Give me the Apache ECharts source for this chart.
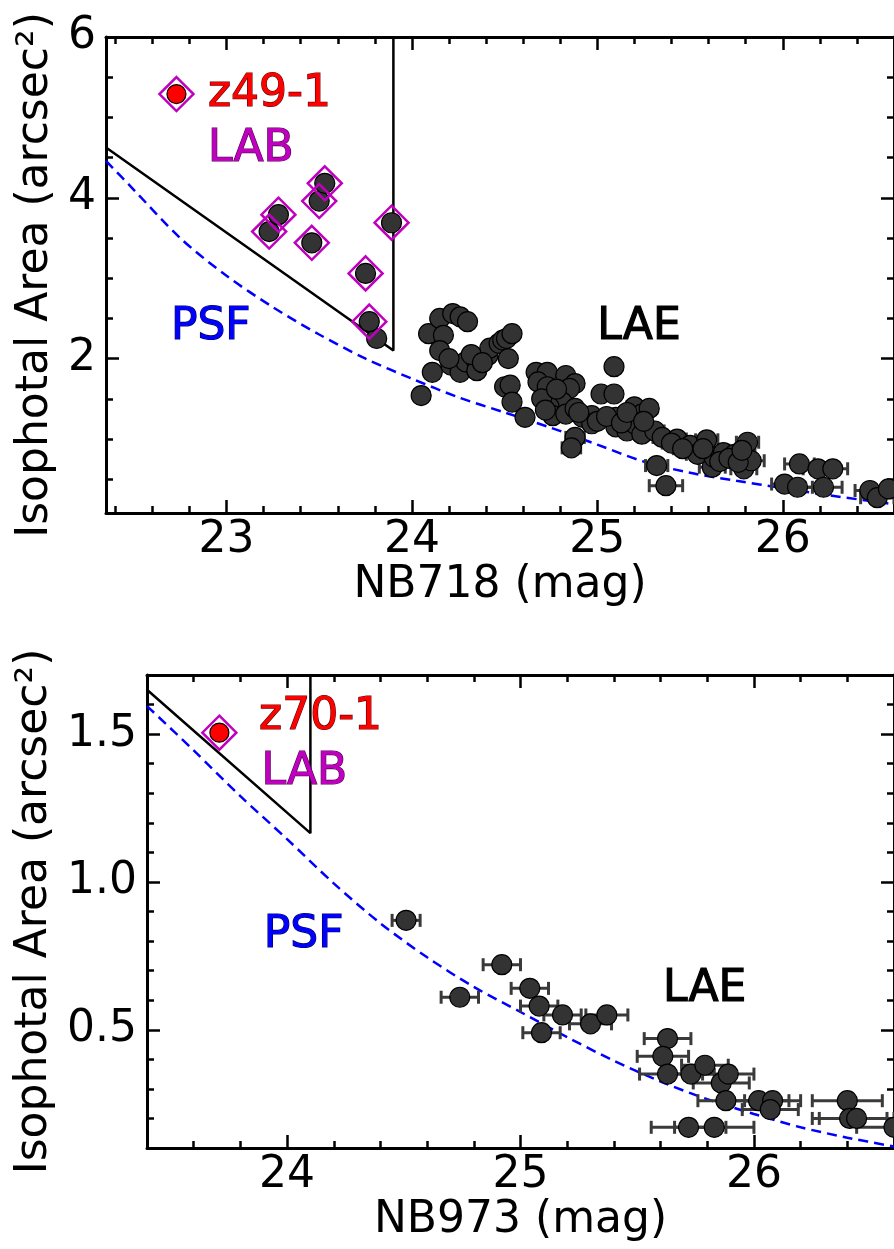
<!DOCTYPE html>
<html>
<head>
<meta charset="utf-8">
<script src="https://cdn.jsdelivr.net/npm/echarts@6/dist/echarts.min.js"></script>
<style>
  html, body { margin: 0; padding: 0; background: #fff; }
  #main { width: 894px; height: 1249px; }
</style>
</head>
<body>
<div id="main"></div>
<script>
// ---- NB718 panel (z=4.9) ----
const laeMag718 = [24.05, 24.11, 24.09, 24.15, 24.22, 24.26, 24.30, 24.17, 24.15, 24.21, 24.26, 24.29, 24.34, 24.35, 24.41, 24.42, 24.47, 24.49, 24.51, 24.54,
  24.52, 24.50, 24.53, 24.54, 24.61, 24.67, 24.73, 24.68, 24.83, 24.88, 24.85, 24.73, 24.76, 24.81, 24.74, 24.76, 24.83, 24.88, 24.92, 24.97,
  24.97, 24.88, 24.86, 25.02, 25.09, 25.09, 25.10, 25.10, 25.16, 25.20, 25.24, 25.28, 25.20, 25.24, 25.31, 25.35, 25.32, 25.37, 25.43, 25.50,
  25.59, 25.54, 25.62, 25.63, 25.68, 25.74, 25.79, 25.81, 25.83, 26.01, 26.08, 26.09, 26.19, 26.22, 26.27, 26.47, 26.51, 26.57,
  24.70, 24.78, 24.72, 24.90, 25.00, 25.05, 25.13, 25.16, 25.25, 25.40, 25.46, 25.57, 25.66, 25.71, 25.76, 25.78, 24.32, 24.20, 24.38, 23.81];
const laeArea718 = [1.54, 1.83, 2.31, 2.50, 2.56, 2.52, 2.46, 2.29, 2.10, 1.92, 1.83, 1.96, 2.00, 1.85, 2.04, 2.13, 2.19, 2.23, 2.25, 2.31,
  2.00, 1.65, 1.67, 1.46, 1.27, 1.83, 1.83, 1.71, 1.79, 1.69, 1.63, 1.65, 1.52, 1.46, 1.40, 1.29, 1.31, 1.38, 1.27, 1.29,
  1.19, 1.02, 0.89, 1.56, 1.56, 1.90, 1.27, 1.15, 1.10, 1.40, 1.31, 1.38, 1.19, 1.06, 1.10, 1.02, 0.67, 0.42, 1.00, 0.92,
  0.99, 0.81, 0.65, 0.77, 0.83, 0.81, 0.63, 0.96, 0.73, 0.44, 0.40, 0.69, 0.63, 0.40, 0.63, 0.36, 0.27, 0.38,
  1.50, 1.62, 1.36, 1.33, 1.22, 1.28, 1.20, 1.33, 1.22, 0.95, 0.88, 0.88, 0.72, 0.76, 0.71, 0.86, 2.05, 2.00, 1.95, 2.25];
const laeErr718 = [0.03, 0.03, 0.03, 0.03, 0.03, 0.03, 0.03, 0.03, 0.03, 0.03, 0.03, 0.03, 0.03, 0.03, 0.03, 0.03, 0.03, 0.03, 0.03, 0.03,
  0.03, 0.03, 0.03, 0.03, 0.03, 0.03, 0.03, 0.03, 0.03, 0.03, 0.03, 0.03, 0.03, 0.03, 0.03, 0.03, 0.03, 0.03, 0.03, 0.03,
  0.03, 0.05, 0.05, 0.03, 0.03, 0.03, 0.03, 0.03, 0.03, 0.04, 0.04, 0.04, 0.04, 0.04, 0.05, 0.05, 0.06, 0.09, 0.05, 0.05,
  0.06, 0.06, 0.07, 0.07, 0.07, 0.07, 0.07, 0.06, 0.07, 0.07, 0.08, 0.08, 0.08, 0.10, 0.08, 0.08, 0.09, 0.09,
  0.03, 0.03, 0.03, 0.03, 0.03, 0.03, 0.03, 0.04, 0.04, 0.05, 0.05, 0.06, 0.07, 0.07, 0.07, 0.07, 0.03, 0.03, 0.03, 0.03];
const labMag718 = [23.23, 23.28, 23.46, 23.50, 23.53, 23.89, 23.75, 23.77];
const labArea718 = [3.58, 3.79, 3.44, 3.96, 4.18, 3.69, 3.06, 2.46];
const star718 = [22.73, 5.29];            // z49-1
const psfMag718 = [22.35, 22.50, 22.75, 23.00, 23.25, 23.50, 23.75, 24.00, 24.25, 24.50, 24.75, 25.00, 25.25, 25.50, 25.75, 26.00, 26.25, 26.60];
const psfArea718 = [4.46, 4.10, 3.50, 3.03, 2.64, 2.30, 2.00, 1.75, 1.52, 1.33, 1.14, 0.93, 0.72, 0.58, 0.48, 0.39, 0.30, 0.19];
const cut718 = [[22.35, 4.625], [23.9, 2.1], [23.9, 6]];

// ---- NB973 panel (z=7.0) ----
const laeMag973 = [24.51, 24.92, 24.74, 25.04, 25.08, 25.18, 25.09, 25.30, 25.37, 25.63, 25.61, 25.63, 25.73, 25.79, 25.86, 25.89, 25.88, 26.02, 26.08, 26.07, 26.40, 26.41, 26.44, 26.60, 25.72, 25.83];
const laeArea973 = [0.87, 0.72, 0.61, 0.64, 0.58, 0.55, 0.49, 0.52, 0.55, 0.47, 0.41, 0.35, 0.35, 0.38, 0.32, 0.35, 0.26, 0.26, 0.26, 0.23, 0.26, 0.20, 0.20, 0.17, 0.17, 0.17];
const laeErr973 = [0.06, 0.08, 0.08, 0.08, 0.08, 0.08, 0.08, 0.09, 0.09, 0.10, 0.11, 0.12, 0.10, 0.10, 0.12, 0.11, 0.12, 0.13, 0.12, 0.12, 0.15, 0.16, 0.16, 0.16, 0.16, 0.17];
const star973 = [23.71, 1.505];           // z70-1
const psfMag973 = [23.40, 23.60, 23.80, 24.00, 24.20, 24.40, 24.60, 24.80, 25.00, 25.20, 25.40, 25.60, 25.80, 26.00, 26.20, 26.40, 26.60];
const psfArea973 = [1.595, 1.445, 1.29, 1.145, 0.995, 0.86, 0.745, 0.645, 0.56, 0.475, 0.395, 0.325, 0.265, 0.215, 0.17, 0.135, 0.105];
const cut973 = [[23.4, 1.65], [24.1, 1.165], [24.1, 1.7]];

const FONT = 'DejaVu Sans';
const MAG = '#bf00bf';

function zip(xs, ys, es) {
  return xs.map((x, i) => es ? [x, ys[i], es[i]] : [x, ys[i]]);
}

function ticks(from, to, step) {
  const out = [];
  for (let v = from; v <= to + 1e-9; v += step) out.push(+v.toFixed(3));
  return out;
}

// four axes per direction: labelled major, minor, mirrored major, mirrored minor
function axisSet(kind, grid, min, max, major, minor, name, nameGap, fmt) {
  const sides = kind === 'x' ? ['bottom', 'top'] : ['left', 'right'];
  const base = { type: 'value', gridIndex: grid, min: min, max: max, splitLine: { show: false } };
  const line = { show: true, onZero: false, lineStyle: { color: '#000', width: 3 } };
  const tick = (vals, len) => ({ show: true, inside: true, length: len, customValues: vals, lineStyle: { color: '#000', width: 2.5 } });
  return [
    Object.assign({}, base, {
      position: sides[0], axisLine: line, axisTick: tick(major, 13),
      axisLabel: { customValues: major, margin: kind === 'x' ? 6 : 10, fontSize: 44, fontFamily: FONT, color: '#000', formatter: fmt },
      name: name, nameLocation: 'middle', nameGap: nameGap,
      nameTextStyle: { fontSize: 44, fontFamily: FONT, color: '#000' }
    }),
    Object.assign({}, base, { position: sides[0], axisLine: { show: false, onZero: false }, axisTick: tick(minor, 7), axisLabel: { show: false } }),
    Object.assign({}, base, { position: sides[1], axisLine: line, axisTick: tick(major, 13), axisLabel: { show: false } }),
    Object.assign({}, base, { position: sides[1], axisLine: { show: false, onZero: false }, axisTick: tick(minor, 7), axisLabel: { show: false } })
  ];
}

function errBars(params, api) {
  const x = api.value(0), y = api.value(1), e = api.value(2);
  const a = api.coord([x - e, y]);
  const b = api.coord([x + e, y]);
  const cap = 6.5;
  const style = { stroke: '#3a3a3a', lineWidth: 3, fill: null };
  return {
    type: 'group',
    children: [
      { type: 'line', shape: { x1: a[0], y1: a[1], x2: b[0], y2: b[1] }, style: style },
      { type: 'line', shape: { x1: a[0], y1: a[1] - cap, x2: a[0], y2: a[1] + cap }, style: style },
      { type: 'line', shape: { x1: b[0], y1: b[1] - cap, x2: b[0], y2: b[1] + cap }, style: style }
    ]
  };
}

function text(xi, yi, pos, str, color, edge) {
  return {
    type: 'scatter', xAxisIndex: xi, yAxisIndex: yi, symbolSize: 1, silent: true, z: 20,
    itemStyle: { color: 'rgba(0,0,0,0)', opacity: 1 },
    label: {
      show: true, position: 'inside', align: 'left', verticalAlign: 'middle',
      formatter: str, fontSize: 44, fontFamily: FONT, color: color,
      textBorderColor: edge, textBorderWidth: 1.2
    },
    data: [pos]
  };
}

function panel(xi, yi, d) {
  return [
    {
      type: 'line', xAxisIndex: xi, yAxisIndex: yi, data: zip(d.psfMag, d.psfArea),
      smooth: 0.3, showSymbol: false, silent: true, z: 3,
      lineStyle: { color: '#0000ff', width: 2.5, type: [10, 6] }
    },
    {
      type: 'line', xAxisIndex: xi, yAxisIndex: yi, data: d.cut,
      showSymbol: false, silent: true, z: 3,
      lineStyle: { color: '#000', width: 2.5 }
    },
    {
      type: 'custom', xAxisIndex: xi, yAxisIndex: yi, renderItem: errBars, z: 4,
      data: zip(d.laeMag, d.laeArea, d.laeErr)
    },
    {
      type: 'scatter', xAxisIndex: xi, yAxisIndex: yi, data: zip(d.laeMag, d.laeArea).concat(d.lab),
      symbolSize: 20, z: 5,
      itemStyle: { color: '#333333', borderColor: '#000', borderWidth: 1.2, opacity: 1 }
    },
    {
      type: 'scatter', xAxisIndex: xi, yAxisIndex: yi, data: [d.star],
      symbolSize: 19, z: 6,
      itemStyle: { color: '#ff0000', borderColor: '#000', borderWidth: 1.2, opacity: 1 }
    },
    {
      type: 'scatter', xAxisIndex: xi, yAxisIndex: yi, data: d.lab.concat([d.star]),
      symbol: 'diamond', symbolSize: [34, 34], z: 7,
      itemStyle: { color: 'rgba(0,0,0,0)', borderColor: MAG, borderWidth: 2.5, opacity: 1 }
    }
  ];
}

const chart = echarts.init(document.getElementById('main'), null, { renderer: 'canvas' });

const xAxes = [].concat(
  axisSet('x', 0, 22.35, 26.6, [23, 24, 25, 26], ticks(22.4, 26.6, 0.2), 'NB718 (mag)', 50),
  axisSet('x', 1, 23.4, 26.6, [24, 25, 26], ticks(23.4, 26.6, 0.2), 'NB973 (mag)', 50)
);
const yAxes = [].concat(
  axisSet('y', 0, 0.08, 6, [2, 4, 6], [0.5, 1, 1.5, 2.5, 3, 3.5, 4.5, 5, 5.5], 'Isophotal Area (arcsec²)', 44),
  axisSet('y', 1, 0.1, 1.7, [0.5, 1.0, 1.5], ticks(0.1, 1.7, 0.1), 'Isophotal Area (arcsec²)', 86, v => v.toFixed(1))
);

const option = {
  animation: false,
  backgroundColor: '#fff',
  grid: [
    { left: 106, top: 37, width: 791, height: 476 },
    { left: 147, top: 675, width: 750, height: 473 }
  ],
  xAxis: xAxes,
  yAxis: yAxes,
  series: [].concat(
    panel(0, 0, {
      psfMag: psfMag718, psfArea: psfArea718, cut: cut718,
      laeMag: laeMag718, laeArea: laeArea718, laeErr: laeErr718,
      lab: zip(labMag718, labArea718), star: star718
    }),
    panel(4, 4, {
      psfMag: psfMag973, psfArea: psfArea973, cut: cut973,
      laeMag: laeMag973, laeArea: laeArea973, laeErr: laeErr973,
      lab: [], star: star973
    }),
    [
      text(0, 0, [22.90, 5.29], 'z49-1', '#ff0000', '#5a0000'),
      text(0, 0, [22.90, 4.60], 'LAB', MAG, '#4a004a'),
      text(0, 0, [22.70, 2.39], 'PSF', '#0000ff', '#00005a'),
      text(0, 0, [25.00, 2.39], 'LAE', '#000', '#000'),
      text(4, 4, [23.88, 1.555], 'z70-1', '#ff0000', '#5a0000'),
      text(4, 4, [23.89, 1.37], 'LAB', MAG, '#4a004a'),
      text(4, 4, [23.90, 0.82], 'PSF', '#0000ff', '#00005a'),
      text(4, 4, [25.61, 0.635], 'LAE', '#000', '#000')
    ]
  )
};

chart.setOption(option);
</script>
</body>
</html>
